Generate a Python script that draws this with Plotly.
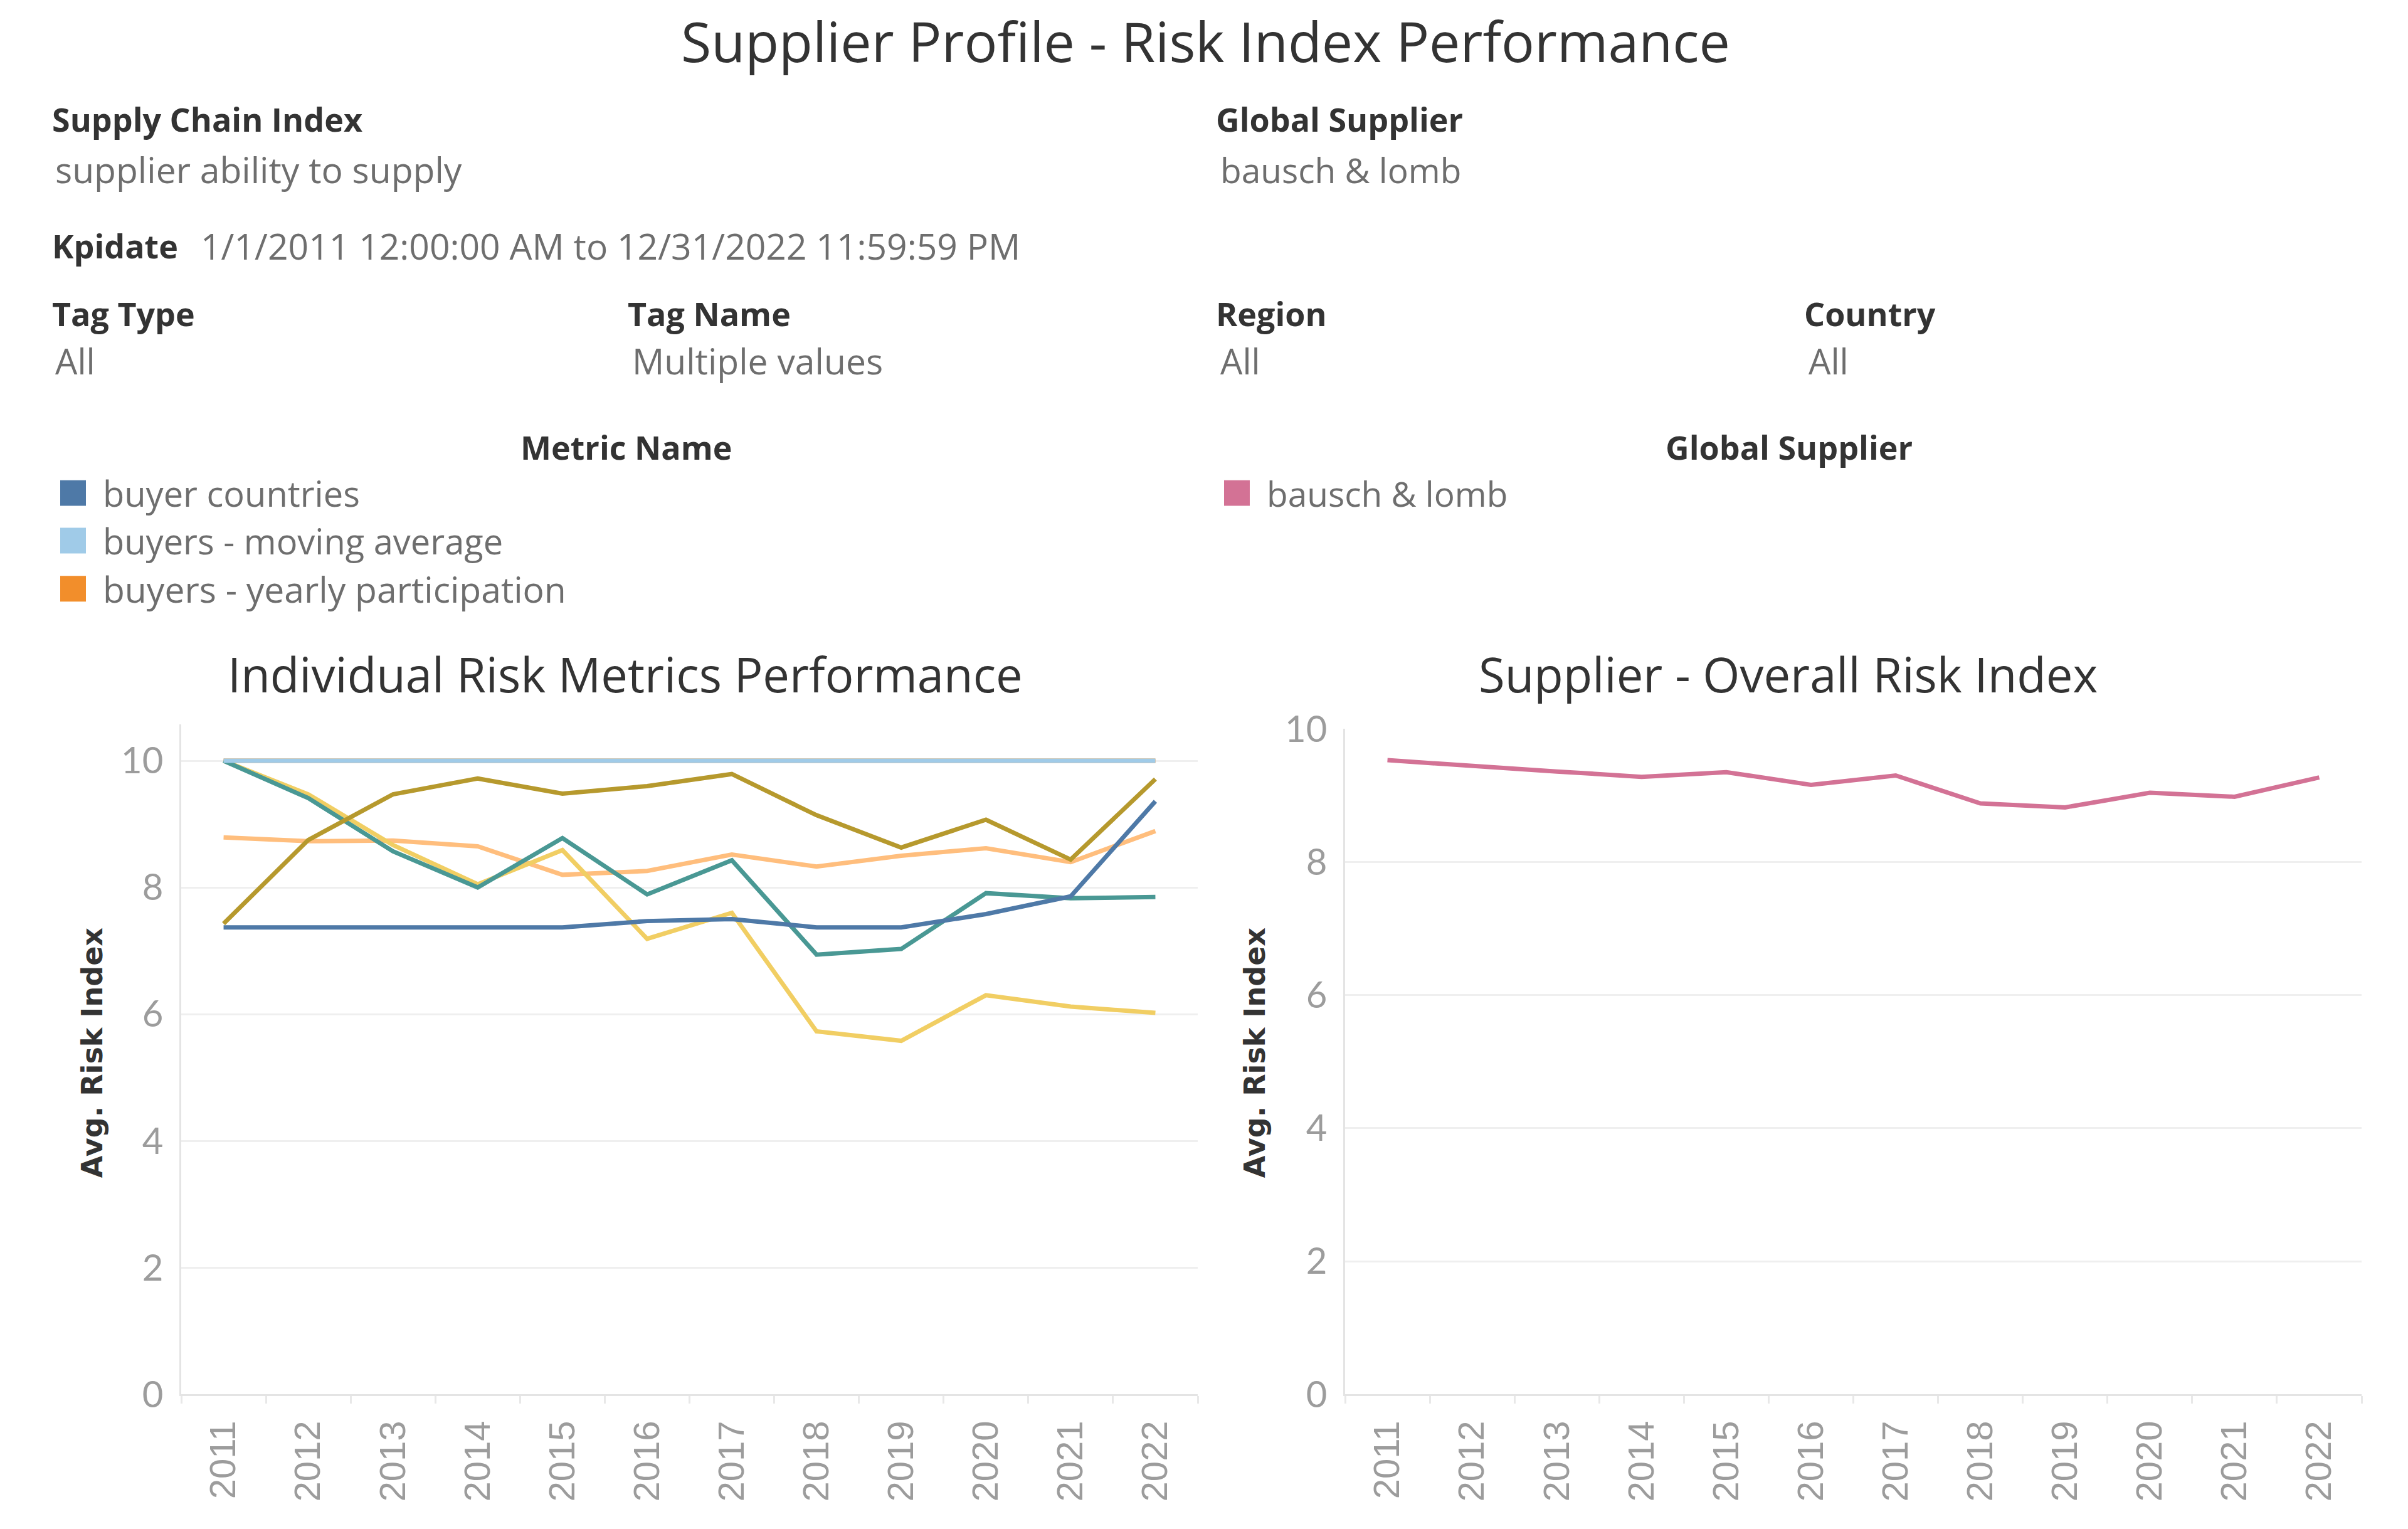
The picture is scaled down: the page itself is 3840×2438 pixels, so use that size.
import plotly.graph_objects as go

W, H = 3840, 2438

# ---------------- data ----------------
years = ["2011", "2012", "2013", "2014", "2015", "2016", "2017", "2018", "2019", "2020", "2021", "2022"]
y_ticks = [0, 2, 4, 6, 8, 10]

buyer_countries = [7.37, 7.37, 7.37, 7.37, 7.37, 7.47, 7.50, 7.37, 7.37, 7.58, 7.86, 9.36]
buyers_moving_average = [10.0, 10.0, 10.0, 10.0, 10.0, 10.0, 10.0, 10.0, 10.0, 10.0, 10.0, 10.0]
buyers_yearly_participation = [10.0, 10.0, 10.0, 10.0, 10.0, 10.0, 10.0, 10.0, 10.0, 10.0, 10.0, 10.0]
metric_peach = [8.79, 8.73, 8.74, 8.65, 8.20, 8.26, 8.52, 8.33, 8.50, 8.62, 8.40, 8.89]
metric_teal = [10.0, 9.41, 8.57, 8.00, 8.78, 7.89, 8.43, 6.94, 7.03, 7.91, 7.83, 7.85]
metric_olive = [7.43, 8.75, 9.47, 9.72, 9.48, 9.60, 9.79, 9.14, 8.63, 9.07, 8.44, 9.71]
metric_yellow = [10.0, 9.47, 8.67, 8.05, 8.59, 7.19, 7.60, 5.73, 5.58, 6.30, 6.12, 6.02]

supplier_name = "bausch & lomb"
overall_risk = [9.53, 9.44, 9.36, 9.28, 9.35, 9.16, 9.30, 8.88, 8.82, 9.04, 8.98, 9.27]

legend_names = ["buyer countries", "buyers - moving average", "buyers - yearly participation"]

# ---------------- styles ----------------
C_BLUE = "#4e79a7"
C_LBLUE = "#a0cbe8"
C_ORANGE = "#f28e2b"
C_PEACH = "#ffbe7d"
C_TEAL = "#499894"
C_OLIVE = "#b6992d"
C_YELLOW = "#f1ce63"
C_PINK = "#d37295"
legend_colors = [C_BLUE, C_LBLUE, C_ORANGE]

HEAD_FONT = "Open Sans"
DARK = "#333333"
GRAY = "#6e6e6e"
TICK_GRAY = "#9c9c9c"
LW = 7

def px_x(v):
    return v / W

def px_y(v):
    return 1 - v / H

fig = go.Figure()

left_series = [
    ("buyers - yearly participation", buyers_yearly_participation, C_ORANGE),
    ("metric 4", metric_peach, C_PEACH),
    ("metric 7", metric_yellow, C_YELLOW),
    ("metric 5", metric_teal, C_TEAL),
    ("metric 6", metric_olive, C_OLIVE),
    ("buyer countries", buyer_countries, C_BLUE),
    ("buyers - moving average", buyers_moving_average, C_LBLUE),
]
for name, vals, col in left_series:
    fig.add_trace(go.Scatter(x=years, y=vals, name=name, mode="lines",
                             line=dict(color=col, width=LW), xaxis="x", yaxis="y",
                             showlegend=False))

fig.add_trace(go.Scatter(x=years, y=overall_risk, name=supplier_name, mode="lines",
                         line=dict(color=C_PINK, width=LW), xaxis="x2", yaxis="y2",
                         showlegend=False))

xcommon = dict(type="category", range=[-0.5, 11.5], showline=True, linecolor="#e4e4e4",
               linewidth=3, ticks="outside", tickson="boundaries", ticklen=12,
               tickcolor="#e8e8e8", tickwidth=3, tickangle=-90, showgrid=False,
               ticklabelstandoff=16,
               tickfont=dict(family="Liberation Sans", size=58, color=TICK_GRAY),
               fixedrange=True)
ycommon = dict(tickvals=y_ticks, showgrid=True, gridcolor="#efefef", gridwidth=3,
               showline=True, linecolor="#e4e4e4", linewidth=3, zeroline=False,
               ticks="", tickfont=dict(family="Lato", size=58, color=TICK_GRAY),
               ticklabelstandoff=14, fixedrange=True)

fig.update_layout(
    width=W, height=H,
    margin=dict(l=0, r=0, t=0, b=0),
    paper_bgcolor="white", plot_bgcolor="white",
    showlegend=False,
    xaxis=dict(domain=[px_x(289), px_x(1910)], anchor="y", **xcommon),
    yaxis=dict(domain=[px_y(2250), px_y(1151)], anchor="x", range=[0, 10.57], **ycommon),
    xaxis2=dict(domain=[px_x(2145), px_x(3766)], anchor="y2", **xcommon),
    yaxis2=dict(domain=[px_y(2250), px_y(1158)], anchor="x2", range=[0, 10.0], **ycommon),
)

annotations = []
def ann(text, x, y, size, color=DARK, bold=False, xanchor="left", family=HEAD_FONT, angle=0):
    annotations.append(dict(
        text=("<b>%s</b>" % text) if bold else text,
        x=px_x(x), y=px_y(y), xref="paper", yref="paper",
        xanchor=xanchor, yanchor="middle", showarrow=False, textangle=angle,
        font=dict(family=family, size=size, color=color)))

ann("Supplier Profile - Risk Index Performance", 1922, 29, 88, DARK, xanchor="center")
ann("Supply Chain Index", 81, 157, 52, DARK, bold=True)
ann("supplier ability to supply", 86, 240, 57, GRAY)
ann("Global Supplier", 1937, 157, 52, DARK, bold=True)
ann("bausch & lomb", 1944, 240, 55, GRAY)
ann("Kpidate", 81, 365, 52, DARK, bold=True)
ann("1/1/2011 12:00:00 AM to 12/31/2022 11:59:59 PM", 318, 365, 57, GRAY)
ann("Tag Type", 81, 476, 52, DARK, bold=True)
ann("All", 86, 554, 56, GRAY)
ann("Tag Name", 999, 476, 52, DARK, bold=True)
ann("Multiple values", 1006, 554, 57, GRAY)
ann("Region", 1937, 476, 52, DARK, bold=True)
ann("All", 1944, 554, 56, GRAY)
ann("Country", 2875, 476, 52, DARK, bold=True)
ann("All", 2882, 554, 56, GRAY)

ann("Metric Name", 999, 695, 52, DARK, bold=True, xanchor="center")
ann("Global Supplier", 2853, 695, 52, DARK, bold=True, xanchor="center")

shapes = []
leg_y = [771, 849, 928]
leg_sizes = [56, 56, 57]
for name, col, yy, fs in zip(legend_names, legend_colors, leg_y, leg_sizes):
    shapes.append(dict(type="rect", xref="paper", yref="paper",
                       x0=px_x(96), x1=px_x(137), y0=px_y(yy + 21), y1=px_y(yy - 21),
                       fillcolor=col, line=dict(width=0)))
    ann(name, 162, yy, fs, GRAY)
shapes.append(dict(type="rect", xref="paper", yref="paper",
                   x0=px_x(1952), x1=px_x(1993), y0=px_y(771 + 21), y1=px_y(771 - 21),
                   fillcolor=C_PINK, line=dict(width=0)))
ann(supplier_name, 2018, 771, 55, GRAY)

ann("Individual Risk Metrics Performance", 997, 1068, 76, DARK, xanchor="center")
ann("Supplier - Overall Risk Index", 2851, 1068, 76, DARK, xanchor="center")

ann("Avg. Risk Index", 147, 1690, 46, DARK, bold=True, xanchor="center", family="DejaVu Sans", angle=-90)
ann("Avg. Risk Index", 2001, 1690, 46, DARK, bold=True, xanchor="center", family="DejaVu Sans", angle=-90)

fig.update_layout(annotations=annotations, shapes=shapes)

fig.write_html("out.html")
